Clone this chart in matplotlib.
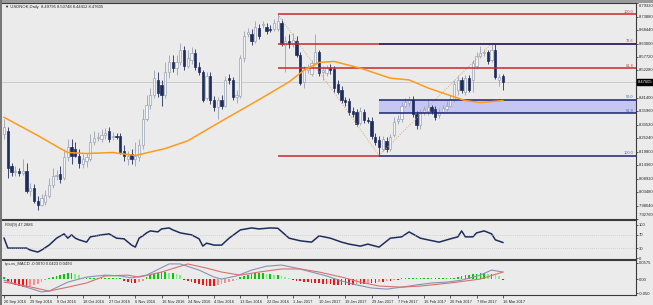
import matplotlib
matplotlib.use("Agg")
import matplotlib.pyplot as plt
import matplotlib.transforms as mtransforms
from matplotlib.patches import Rectangle
import numpy as np

# velas diarias USDNOK
opens = [8.268, 8.280, 8.139, 8.115, 8.119, 8.111, 8.119, 8.041, 8.052, 8.001,
         7.985, 7.997, 8.021, 8.064, 8.100, 8.107, 8.092, 8.178, 8.217, 8.210,
         8.182, 8.147, 8.162, 8.170, 8.237, 8.253, 8.249, 8.264, 8.280, 8.257,
         8.261, 8.261, 8.202, 8.170, 8.190, 8.170, 8.178, 8.225, 8.327, 8.386,
         8.426, 8.485, 8.465, 8.426, 8.516, 8.555, 8.532, 8.555, 8.603, 8.540,
         8.563, 8.591, 8.536, 8.516, 8.414, 8.500, 8.406, 8.375, 8.406, 8.382,
         8.492, 8.485, 8.418, 8.422, 8.571, 8.669, 8.669, 8.642, 8.693, 8.705,
         8.697, 8.689, 8.689, 8.689, 8.713, 8.626, 8.642, 8.630, 8.642, 8.583,
         8.477, 8.524, 8.508, 8.551, 8.595, 8.516, 8.512, 8.532, 8.528, 8.469,
         8.445, 8.406, 8.402, 8.359, 8.355, 8.312, 8.355, 8.323, 8.320, 8.257,
         8.245, 8.210, 8.241, 8.210, 8.264, 8.320, 8.327, 8.382, 8.394, 8.406,
         8.347, 8.304, 8.355, 8.359, 8.375, 8.367, 8.343, 8.355, 8.367, 8.382,
         8.406, 8.445, 8.485, 8.437, 8.492, 8.485, 8.540, 8.579, 8.591, 8.595,
         8.563, 8.603, 8.485, 8.500]
highs = [8.327, 8.296, 8.151, 8.139, 8.131, 8.170, 8.151, 8.072, 8.068, 8.021,
         8.029, 8.044, 8.092, 8.131, 8.123, 8.139, 8.210, 8.249, 8.249, 8.237,
         8.210, 8.190, 8.194, 8.268, 8.280, 8.276, 8.288, 8.292, 8.296, 8.276,
         8.272, 8.272, 8.225, 8.202, 8.210, 8.237, 8.249, 8.367, 8.426, 8.453,
         8.524, 8.516, 8.485, 8.555, 8.583, 8.583, 8.583, 8.634, 8.622, 8.603,
         8.618, 8.610, 8.555, 8.524, 8.516, 8.516, 8.422, 8.418, 8.426, 8.500,
         8.508, 8.496, 8.445, 8.583, 8.681, 8.693, 8.689, 8.720, 8.709, 8.720,
         8.713, 8.705, 8.728, 8.748, 8.728, 8.661, 8.669, 8.673, 8.661, 8.595,
         8.540, 8.547, 8.563, 8.669, 8.603, 8.540, 8.544, 8.547, 8.540, 8.485,
         8.461, 8.418, 8.414, 8.375, 8.367, 8.375, 8.367, 8.335, 8.335, 8.272,
         8.261, 8.261, 8.257, 8.268, 8.335, 8.343, 8.398, 8.414, 8.422, 8.422,
         8.359, 8.367, 8.382, 8.406, 8.386, 8.382, 8.371, 8.386, 8.402, 8.426,
         8.485, 8.504, 8.496, 8.504, 8.504, 8.563, 8.595, 8.622, 8.610, 8.606,
         8.630, 8.630, 8.508, 8.508]
lows = [8.249, 8.092, 8.100, 8.100, 8.100, 8.103, 8.033, 8.021, 7.993, 7.962,
        7.978, 7.982, 8.013, 8.052, 8.084, 8.072, 8.084, 8.162, 8.147, 8.178,
        8.131, 8.131, 8.135, 8.162, 8.225, 8.241, 8.237, 8.249, 8.237, 8.245,
        8.249, 8.190, 8.162, 8.143, 8.147, 8.139, 8.162, 8.210, 8.320, 8.367,
        8.414, 8.418, 8.382, 8.414, 8.492, 8.516, 8.504, 8.544, 8.524, 8.532,
        8.547, 8.524, 8.504, 8.398, 8.406, 8.390, 8.359, 8.327, 8.367, 8.375,
        8.469, 8.406, 8.394, 8.414, 8.555, 8.657, 8.626, 8.634, 8.650, 8.693,
        8.669, 8.677, 8.681, 8.681, 8.622, 8.516, 8.614, 8.618, 8.575, 8.465,
        8.453, 8.512, 8.500, 8.544, 8.500, 8.485, 8.500, 8.508, 8.437, 8.430,
        8.394, 8.382, 8.343, 8.335, 8.300, 8.304, 8.312, 8.312, 8.249, 8.225,
        8.182, 8.202, 8.198, 8.202, 8.257, 8.308, 8.316, 8.375, 8.382, 8.335,
        8.288, 8.288, 8.343, 8.343, 8.347, 8.323, 8.331, 8.351, 8.359, 8.375,
        8.398, 8.426, 8.434, 8.426, 8.437, 8.437, 8.528, 8.571, 8.579, 8.547,
        8.555, 8.489, 8.461, 8.445]
closes = [8.296, 8.131, 8.115, 8.119, 8.111, 8.119, 8.041, 8.052, 8.001, 7.985,
          8.013, 8.025, 8.064, 8.100, 8.103, 8.088, 8.178, 8.217, 8.182, 8.182,
          8.154, 8.170, 8.178, 8.237, 8.253, 8.257, 8.264, 8.272, 8.249, 8.261,
          8.257, 8.198, 8.182, 8.182, 8.170, 8.182, 8.225, 8.327, 8.386, 8.426,
          8.492, 8.434, 8.426, 8.516, 8.555, 8.532, 8.555, 8.603, 8.540, 8.571,
          8.591, 8.536, 8.516, 8.406, 8.500, 8.406, 8.378, 8.406, 8.382, 8.485,
          8.485, 8.418, 8.426, 8.571, 8.661, 8.677, 8.642, 8.697, 8.661, 8.709,
          8.681, 8.685, 8.713, 8.720, 8.630, 8.642, 8.630, 8.646, 8.583, 8.473,
          8.524, 8.532, 8.551, 8.595, 8.512, 8.524, 8.532, 8.524, 8.453, 8.437,
          8.406, 8.398, 8.355, 8.347, 8.308, 8.359, 8.323, 8.320, 8.261, 8.237,
          8.217, 8.249, 8.210, 8.257, 8.316, 8.327, 8.382, 8.398, 8.406, 8.347,
          8.304, 8.355, 8.367, 8.375, 8.359, 8.335, 8.355, 8.371, 8.382, 8.410,
          8.469, 8.485, 8.445, 8.492, 8.445, 8.551, 8.579, 8.591, 8.595, 8.559,
          8.603, 8.496, 8.496, 8.476]

# media movil (naranja), puntos leidos
ma_x = [0, 9, 15, 17, 22, 29, 35, 43, 49, 58, 68, 76, 80, 84, 88, 95, 103, 108, 113, 119, 123, 127, 133]
ma_y = [8.335, 8.262, 8.210, 8.194, 8.190, 8.194, 8.182, 8.210, 8.241, 8.320, 8.406, 8.477, 8.524,
        8.555, 8.559, 8.532, 8.492, 8.485, 8.453, 8.422, 8.402, 8.394, 8.402]

# niveles de fibonacci
fib_price = [8.748, 8.630, 8.532, 8.406, 8.351, 8.182]
fib_label = ["100.0", "78.6", "61.8", "50.0", "61.8", "100.0"]
swing_hi, swing_lo, swing_end = 73, 100, 130
last_price = 8.47605

price_ticks = [8.7932, 8.7388, 8.6844, 8.6300, 8.5772, 8.5228, 8.4140, 8.3596,
               8.3052, 8.2524, 8.1980, 8.1436, 8.0892, 8.0348, 7.9804, 7.9276]
price_labels = ["8.79320", "8.73880", "8.68440", "8.63000", "8.57720", "8.52280", "8.41400", "8.35960",
                "8.30520", "8.25240", "8.19800", "8.14360", "8.08920", "8.03480", "7.98040", "7.92760"]

# RSI
rsi_x = [0, 1, 4, 6, 7, 9, 10, 12, 14, 16, 17, 18, 19, 20, 22, 23, 26, 28, 30, 32, 34, 35, 36, 37,
         38, 39, 41, 42, 44, 45, 47, 50, 52, 53, 54, 56, 58, 60, 63, 66, 68, 71, 73, 76, 79, 82, 84,
         87, 90, 92, 95, 97, 100, 103, 106, 108, 111, 113, 116, 119, 121, 122, 123, 125, 126, 128,
         130, 131, 133]
rsi_v = [60, 30, 30, 30, 24, 18, 24, 39, 60, 73, 60, 70, 60, 55, 48, 64, 70, 73, 60, 58, 39, 33, 60, 67,
         76, 82, 79, 88, 91, 85, 76, 70, 58, 36, 45, 39, 39, 60, 85, 91, 88, 91, 90, 60, 52, 48, 67,
         60, 48, 42, 36, 42, 33, 60, 64, 79, 60, 55, 48, 58, 64, 82, 64, 64, 76, 82,
         73, 55, 47]

# MACD
macd_x = [0, 4, 10, 12, 17, 22, 27, 31, 34, 38, 44, 47, 52, 56, 58, 62, 66, 70, 74, 78, 82, 86,
          90, 94, 98, 102, 106, 110, 114, 118, 122, 127, 130, 133]
macd_v = [-0.004, -0.021, -0.046, -0.043, -0.011, 0.007, 0.014, 0.011, 0.004, 0.014, 0.054, 0.054,
          0.032, 0.007, 0.000, 0.011, 0.032, 0.046, 0.050, 0.039, 0.025, 0.011, -0.007, -0.021,
          -0.032, -0.036, -0.029, -0.021, -0.014, -0.011, -0.004, 0.014, 0.032, 0.025]
sig_x = [0, 6, 12, 17, 22, 27, 33, 36, 42, 49, 54, 58, 63, 68, 74, 79, 84, 90, 95, 100, 106, 111,
         114, 119, 127, 133]
sig_v = [-0.011, -0.025, -0.043, -0.029, -0.014, 0.011, 0.014, 0.007, 0.025, 0.054, 0.039, 0.025,
         0.014, 0.025, 0.036, 0.036, 0.025, 0.007, -0.011, -0.025, -0.029, -0.025, -0.021, -0.014,
         0.000, 0.025]
hist = [0.007,
        -0.011, -0.018, -0.022, -0.025, -0.029, -0.029, -0.025, -0.022, -0.018, -0.011,
        -0.004, 0.004,
        0.007, 0.011, 0.014, 0.018, 0.022, 0.022, 0.018, 0.014,
        0.004, 0.004, 0.004, 0.004, 0.004, 0.004, 0.004, 0.004, 0.004, 0.004, 0.004,
        -0.007, -0.011, -0.014, -0.014, -0.011, -0.007,
        0.007, 0.014, 0.018, 0.022, 0.025, 0.025, 0.022, 0.022, 0.018, 0.014,
        -0.004, -0.007, -0.011, -0.014, -0.018, -0.022, -0.025, -0.025, -0.025, -0.022, -0.018,
        -0.014, -0.011, -0.007, -0.004,
        0.007, 0.011, 0.014, 0.018, 0.022, 0.022, 0.022, 0.018, 0.018, 0.014, 0.014, 0.011, 0.007, 0.004,
        -0.004, -0.007, -0.007, -0.011, -0.011, -0.014, -0.014, -0.014, -0.018, -0.018, -0.018,
        -0.022, -0.022, -0.022, -0.022, -0.022, -0.022, -0.018, -0.018, -0.018, -0.014, -0.014,
        -0.014, -0.011, -0.011, -0.007, -0.007, -0.004, -0.004,
        0.004, 0.004, 0.004, 0.004, 0.004, 0.004, 0.004,
        0.004, 0.004, 0.004, 0.004, 0.004, 0.004, 0.004, 0.004,
        0.007, 0.011, 0.014, 0.014, 0.018, 0.018, 0.022, 0.022,
        0.018, 0.018, 0.014,
        0.011, -0.004]

date_idx = [0, 7, 14, 21, 28, 35, 42, 49, 56, 63, 70, 77, 84, 91, 98, 105, 112, 119, 126, 133]
date_labels = ["20 Sep 2016", "29 Sep 2016", "9 Oct 2016", "18 Oct 2016", "27 Oct 2016",
               "6 Nov 2016", "16 Nov 2016", "24 Nov 2016", "4 Dec 2016", "13 Dec 2016",
               "22 Dec 2016", "1 Jan 2017", "10 Jan 2017", "19 Jan 2017", "29 Jan 2017",
               "7 Feb 2017", "16 Feb 2017", "26 Feb 2017", "7 Mar 2017", "16 Mar 2017"]

# --- figura ---
plt.rcParams["font.family"] = ["Liberation Sans Narrow", "Liberation Sans", "DejaVu Sans"]
W, H = 653, 305
BG = "#ebebeb"
NAVY = "#1f2d5c"
fig = plt.figure(figsize=(W / 100, H / 100), dpi=100)
fig.patch.set_facecolor(BG)


def rect(x0, y0, x1, y1):
    return [x0 / W, 1 - y1 / H, (x1 - x0) / W, (y1 - y0) / H]


ax = fig.add_axes(rect(2, 3, 636, 219))
ax_rsi = fig.add_axes(rect(2, 220, 636, 259))
ax_macd = fig.add_axes(rect(2, 260, 636, 295))

# bordes de la ventana
fig.add_artist(Rectangle((0, 1 - 3 / H), 1, 3 / H, transform=fig.transFigure, color="#9a9a9a", lw=0))
fig.add_artist(Rectangle((0, 0), 2 / W, 1, transform=fig.transFigure, color="#777777", lw=0))

xmax = 168.5
fs = 3.0
for a in (ax, ax_rsi, ax_macd):
    a.set_facecolor(BG)
    a.set_xlim(-0.55, xmax)
    for s in a.spines.values():
        s.set_color("#3a3a3a")
        s.set_linewidth(0.8)
    a.spines["left"].set_visible(False)
    a.yaxis.tick_right()
    a.tick_params(axis="y", length=1.5, width=0.5, pad=0.8, labelsize=fs, colors="#222222")
    a.tick_params(axis="x", length=0, labelbottom=False)

# --- panel de precios ---
ax.set_ylim(7.938, 8.787)
o, h, l, c = map(np.array, (opens, highs, lows, closes))
idx = np.arange(len(c))
up = c >= o
ax.vlines(idx[up], l[up], h[up], color="#9aa2b4", lw=0.6, zorder=1.5)
ax.vlines(idx[~up], l[~up], h[~up], color=NAVY, lw=0.6, zorder=1.5)
ax.bar(idx[up], (c - o)[up], bottom=o[up], width=0.6, color="#f4f4f4", edgecolor="#9aa2b4", lw=0.5, zorder=2)
ax.bar(idx[~up], (o - c)[~up], bottom=c[~up], width=0.6, color=NAVY, edgecolor=NAVY, lw=0.5, zorder=2)

ax.axhline(last_price, color="#c6c6c6", lw=0.6, zorder=0.8)
ax.plot(ma_x, ma_y, color="#ff9a1a", lw=1.1, zorder=3)

# caja azul y lineas de fibonacci
ax.add_patch(Rectangle((swing_lo, fib_price[4]), xmax - swing_lo, fib_price[3] - fib_price[4],
                       facecolor="#c6c6f2", edgecolor="none", zorder=0.6))
red, blue = "#c8282c", "#1c2470"
ax.hlines(fib_price[:3], swing_hi, xmax, color=red, lw=1.1, zorder=2.5)
ax.hlines(fib_price[1], swing_lo, xmax, color=blue, lw=1.1, zorder=2.6)
ax.hlines(fib_price[3:5], swing_lo, xmax, color=blue, lw=1.1, zorder=2.6)
ax.hlines(fib_price[5], swing_hi, swing_lo, color=red, lw=1.1, zorder=2.5)
ax.hlines(fib_price[5], swing_lo, xmax, color=blue, lw=1.1, zorder=2.6)
lab_cols = ["#b04848", "#a05070", "#b04848", "#6060a0", "#6060a0", "#6060a0"]
for p, s, col in zip(fib_price, fib_label, lab_cols):
    ax.text(xmax - 0.6, p + 0.002, s, ha="right", va="bottom", fontsize=2.8, color=col, zorder=4)

ax.plot([swing_hi, swing_lo], [highs[swing_hi], lows[swing_lo]], ls=(0, (1, 1.5)), color="#d8a878", lw=0.7, zorder=2.4)
ax.plot([swing_lo, swing_end], [lows[swing_lo], fib_price[1]], ls=(0, (1, 1.5)), color="#d8a878", lw=0.7, zorder=2.4)

ax.set_yticks(price_ticks)
ax.set_yticklabels([])
trans = mtransforms.blended_transform_factory(ax.transAxes, ax.transData)
for v, s in zip(price_ticks, price_labels):
    ax.text(1.004, min(max(v, 7.943), 8.782), s, transform=trans, fontsize=fs,
            va="center", ha="left", color="#222222")
ax.text(1.003, last_price, "8.47605", transform=trans, fontsize=fs, va="center", ha="left",
        color="white", bbox=dict(boxstyle="square,pad=0.2", fc="black", ec="black"), zorder=5)
ax.text(0.004, 0.993, "\u25bc USDNOK,Daily  8.49795 8.50748 8.44412 8.47605", transform=ax.transAxes,
        fontsize=fs, va="top", ha="left", color="#222222")

# --- RSI ---
ax_rsi.set_ylim(-3, 115)
ax_rsi.plot(rsi_x, rsi_v, color=NAVY, lw=1.1)
ax_rsi.axhline(70, color="#b8b8b8", lw=0.5, ls=(0, (1, 2)))
ax_rsi.axhline(30, color="#b8b8b8", lw=0.5, ls=(0, (1, 2)))
ax_rsi.set_yticks([100, 70, 30, 0])
ax_rsi.set_yticklabels(["100", "70", "30", "0"])
ax_rsi.text(0.004, 0.93, "RSI(9) 47.2886", transform=ax_rsi.transAxes, fontsize=fs, va="top", color="#222222")

# --- MACD ---
ax_macd.set_ylim(-0.057, 0.068)
hv = np.array(hist)
prev = np.concatenate([[0], hv[:-1]])
cols = np.where(hv >= 0, np.where(hv >= prev, "#00cc00", "#7cf07c"),
                np.where(hv <= prev, "#ff1010", "#ff8c8c"))
ax_macd.bar(idx, hv, width=0.45, color=cols, lw=0)
ax_macd.plot(macd_x, macd_v, color="#8a92b4", lw=0.8)
ax_macd.plot(sig_x, sig_v, color="#d87070", lw=0.8)
ax_macd.set_yticks([0.0575, 0.0, -0.05])
ax_macd.set_yticklabels(["0.0575", "0.00", "-0.050"])
ax_macd.text(0.004, 0.95, "tp+vs_MACD -0.0070 0.0423 0.0493", transform=ax_macd.transAxes,
             fontsize=fs, va="top", color="#222222")
ax_macd.set_xticks(date_idx)
ax_macd.set_xticklabels(date_labels, ha="left")
ax_macd.tick_params(axis="x", length=2, width=0.5, pad=1.5, labelsize=2.8, labelbottom=True, colors="#222222")

fig.savefig("out.png", dpi=100, facecolor=BG)
